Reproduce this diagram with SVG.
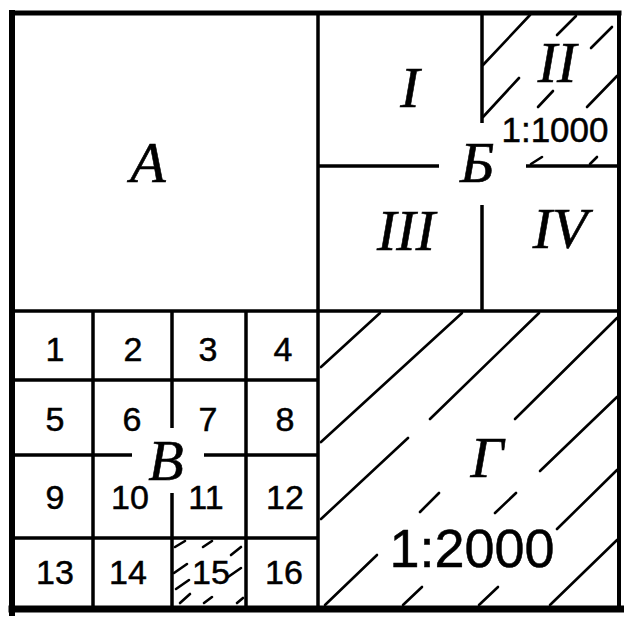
<svg xmlns="http://www.w3.org/2000/svg" width="624" height="619" viewBox="0 0 624 619">
<style>
.lbl{font-family:"Liberation Serif","DejaVu Serif",serif;font-style:italic;font-size:58px;fill:#000;stroke:#000;stroke-width:0.6;text-anchor:middle}
.num{font-family:"Liberation Sans",Arial,sans-serif;font-size:34px;fill:#000;stroke:#000;stroke-width:0.5;text-anchor:middle}
.sc{font-family:"Liberation Sans",Arial,sans-serif;fill:#000;stroke:#000;stroke-width:0.5;text-anchor:middle}
.frame{stroke:#000;fill:none;stroke-linecap:square}
.grid{stroke:#000;stroke-width:3.5;fill:none}
.hatch{stroke:#000;stroke-width:2.6;fill:none;stroke-linecap:round}
</style>
<rect width="624" height="619" fill="#fff"/>
<g id="connectors">
  <line class="frame" x1="12" y1="13" x2="619" y2="13" stroke-width="5"/>
  <line class="frame" x1="12" y1="13" x2="12" y2="613" stroke-width="6"/>
  <line class="frame" x1="619" y1="13" x2="619" y2="609" stroke-width="4"/>
  <line class="frame" x1="12" y1="609" x2="621" y2="609" stroke-width="7"/>
  <line class="grid" x1="318" y1="13" x2="318" y2="609"/>
  <line class="grid" x1="12" y1="311" x2="619" y2="311"/>
</g>
<g id="node-A">
  <text class="lbl" x="148" y="182">A</text>
</g>
<g id="node-B">
  <line class="grid" x1="482" y1="13" x2="482" y2="123"/>
  <line class="grid" x1="482" y1="205" x2="482" y2="311"/>
  <line class="grid" x1="318" y1="166" x2="439" y2="166"/>
  <line class="grid" x1="526" y1="166" x2="619" y2="166"/>
  <g id="hatch-II">
    <line class="hatch" x1="483" y1="65" x2="530" y2="15"/>
    <line class="hatch" x1="483" y1="117" x2="519" y2="78"/>
    <line class="hatch" x1="557" y1="35" x2="576" y2="16"/>
    <line class="hatch" x1="538" y1="107" x2="553" y2="91"/>
    <line class="hatch" x1="591" y1="48" x2="612" y2="27"/>
    <line class="hatch" x1="587" y1="107" x2="617" y2="76"/>
    <line class="hatch" x1="531" y1="164" x2="542" y2="157"/>
    <line class="hatch" x1="590" y1="164" x2="597" y2="157"/>
  </g>
  <text class="lbl" x="410" y="107">I</text>
  <text class="lbl" x="557" y="82">II</text>
  <text class="sc" x="555" y="142" font-size="35">1:1000</text>
  <text class="lbl" x="477" y="182">Б</text>
  <text class="lbl" x="406" y="250">III</text>
  <text class="lbl" x="560" y="248">IV</text>
</g>
<g id="node-V">
  <line class="grid" x1="93" y1="311" x2="93" y2="609"/>
  <line class="grid" x1="172" y1="311" x2="172" y2="428"/>
  <line class="grid" x1="172" y1="493" x2="172" y2="609"/>
  <line class="grid" x1="246" y1="311" x2="246" y2="609"/>
  <line class="grid" x1="12" y1="380" x2="318" y2="380"/>
  <line class="grid" x1="12" y1="455" x2="132" y2="455"/>
  <line class="grid" x1="204" y1="455" x2="318" y2="455"/>
  <line class="grid" x1="12" y1="538" x2="318" y2="538"/>
  <g id="hatch-15">
    <line class="hatch" x1="175" y1="547" x2="185" y2="541"/>
    <line class="hatch" x1="203" y1="547" x2="212" y2="541"/>
    <line class="hatch" x1="174" y1="573" x2="187" y2="564"/>
    <line class="hatch" x1="231" y1="555" x2="241" y2="547"/>
    <line class="hatch" x1="176" y1="589" x2="189" y2="580"/>
    <line class="hatch" x1="228" y1="577" x2="241" y2="568"/>
    <line class="hatch" x1="180" y1="603" x2="190" y2="594"/>
    <line class="hatch" x1="204" y1="603" x2="212" y2="597"/>
    <line class="hatch" x1="237" y1="603" x2="243" y2="598"/>
  </g>
  <text class="num" x="55" y="361">1</text>
  <text class="num" x="133" y="361">2</text>
  <text class="num" x="208" y="361">3</text>
  <text class="num" x="283" y="361">4</text>
  <text class="num" x="55" y="431">5</text>
  <text class="num" x="132" y="431">6</text>
  <text class="num" x="208" y="431">7</text>
  <text class="num" x="285" y="431">8</text>
  <text class="num" x="55" y="509">9</text>
  <text class="num" x="130" y="509">10</text>
  <text class="num" x="206" y="509">11</text>
  <text class="num" x="285" y="509">12</text>
  <text class="num" x="55" y="584">13</text>
  <text class="num" x="128" y="584">14</text>
  <text class="num" x="211" y="584">15</text>
  <text class="num" x="284" y="584">16</text>
  <text class="lbl" x="166" y="480">В</text>
</g>
<g id="node-G">
  <g id="hatch-G">
    <line class="hatch" x1="321" y1="367" x2="380" y2="313"/>
    <line class="hatch" x1="321" y1="442" x2="462" y2="313"/>
    <line class="hatch" x1="430" y1="419" x2="539" y2="313"/>
    <line class="hatch" x1="408" y1="438" x2="321" y2="519"/>
    <line class="hatch" x1="617" y1="318" x2="515" y2="419"/>
    <line class="hatch" x1="439" y1="493" x2="420" y2="512"/>
    <line class="hatch" x1="377" y1="555" x2="325" y2="605"/>
    <line class="hatch" x1="617" y1="397" x2="540" y2="471"/>
    <line class="hatch" x1="516" y1="493" x2="495" y2="513"/>
    <line class="hatch" x1="422" y1="587" x2="403" y2="605"/>
    <line class="hatch" x1="617" y1="470" x2="557" y2="529"/>
    <line class="hatch" x1="498" y1="587" x2="479" y2="605"/>
    <line class="hatch" x1="617" y1="540" x2="550" y2="605"/>
  </g>
  <text class="lbl" x="487" y="477">Г</text>
  <text class="sc" x="472" y="567" font-size="54">1:2000</text>
</g>
</svg>
